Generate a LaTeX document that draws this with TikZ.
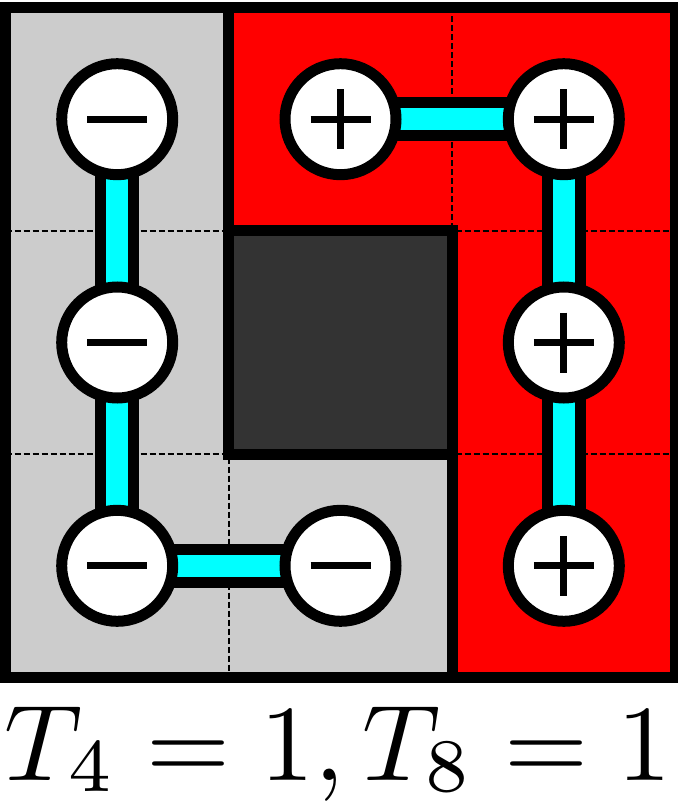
\documentclass[tikz,border=0pt]{standalone}
\usetikzlibrary{calc}
\definecolor{cellgray}{HTML}{CCCCCC}
\definecolor{cellred}{HTML}{FF0000}
\definecolor{celldark}{HTML}{333333}
\definecolor{bondcyan}{HTML}{00FFFF}
\pgfdeclarelayer{cells}
\pgfdeclarelayer{bonds}
\pgfsetlayers{cells,bonds,main}
\tikzset{
  site/.style={circle, draw=black, fill=white, line width=11pt, minimum size=111pt, inner sep=0pt},
  bondouter/.style={line width=44pt, draw=black},
  bondinner/.style={line width=22pt, draw=bondcyan},
  gridline/.style={line width=2.5pt, dash pattern=on 6pt off 3pt},
  regionborder/.style={line width=11pt, line join=miter},
  signline/.style={line width=7pt},
}
\newcommand{\subidx}[1]{\raisebox{0.8pt}{$\scriptstyle #1$}}
\begin{document}
\begin{tikzpicture}[x=1pt,y=-1pt]
\useasboundingbox (0,0) rectangle (677,802);
% grid values
\def\xa{5.5}\def\xb{228.8}\def\xc{452.2}\def\xd{675.5}
\def\ya{7.5}\def\yb{230.8}\def\yc{454.2}\def\yd{677.5}
\begin{pgfonlayer}{cells}
  \fill[cellgray] (\xa,\ya) -- (\xb,\ya) -- (\xb,\yc) -- (\xc,\yc) -- (\xc,\yd) -- (\xa,\yd) -- cycle;
  \fill[cellred] (\xb,\ya) -- (\xd,\ya) -- (\xd,\yd) -- (\xc,\yd) -- (\xc,\yb) -- (\xb,\yb) -- cycle;
  \draw[gridline] (\xb,\ya) -- (\xb,\yd);
  \draw[gridline] (\xc,\ya) -- (\xc,\yd);
  \draw[gridline] (\xa,\yb) -- (\xd,\yb);
  \draw[gridline] (\xa,\yc) -- (\xd,\yc);
  \draw[regionborder, fill=celldark] (\xb,\yb) rectangle (\xc,\yc);
  \draw[regionborder] (\xa,\ya) -- (\xb,\ya) -- (\xb,\yc) -- (\xc,\yc) -- (\xc,\yd) -- (\xa,\yd) -- cycle;
  \draw[regionborder] (\xb,\ya) -- (\xd,\ya) -- (\xd,\yd) -- (\xc,\yd) -- (\xc,\yb) -- (\xb,\yb) -- cycle;
\end{pgfonlayer}
% sites
\node[site] (m1) at (117.2,119.2) {};
\node[site] (m2) at (117.2,342.5) {};
\node[site] (m3) at (117.2,565.8) {};
\node[site] (m4) at (340.5,565.8) {};
\node[site] (p1) at (340.5,119.2) {};
\node[site] (p2) at (563.8,119.2) {};
\node[site] (p3) at (563.8,342.5) {};
\node[site] (p4) at (563.8,565.8) {};
\foreach \n in {m1,m2,m3,m4,p1,p2,p3,p4}{
  \draw[signline] ($(\n.center)+(-30,0)$) -- ($(\n.center)+(30,0)$);
}
\foreach \n in {p1,p2,p3,p4}{
  \draw[signline] ($(\n.center)+(0,-30)$) -- ($(\n.center)+(0,30)$);
}
% bonds
\begin{pgfonlayer}{bonds}
  \foreach \a/\b in {m1/m2,m2/m3,m3/m4,p1/p2,p2/p3,p3/p4}{
    \draw[bondouter] (\a.center) -- (\b.center);
    \draw[bondinner] (\a.center) -- (\b.center);
  }
\end{pgfonlayer}
% label
\node[inner sep=0pt, anchor=base] (lbl) at (338.5,780) {\resizebox{667pt}{!}{$T_{\subidx{4}}=1,T_{\subidx{8}}=1$}};
\end{tikzpicture}
\end{document}
